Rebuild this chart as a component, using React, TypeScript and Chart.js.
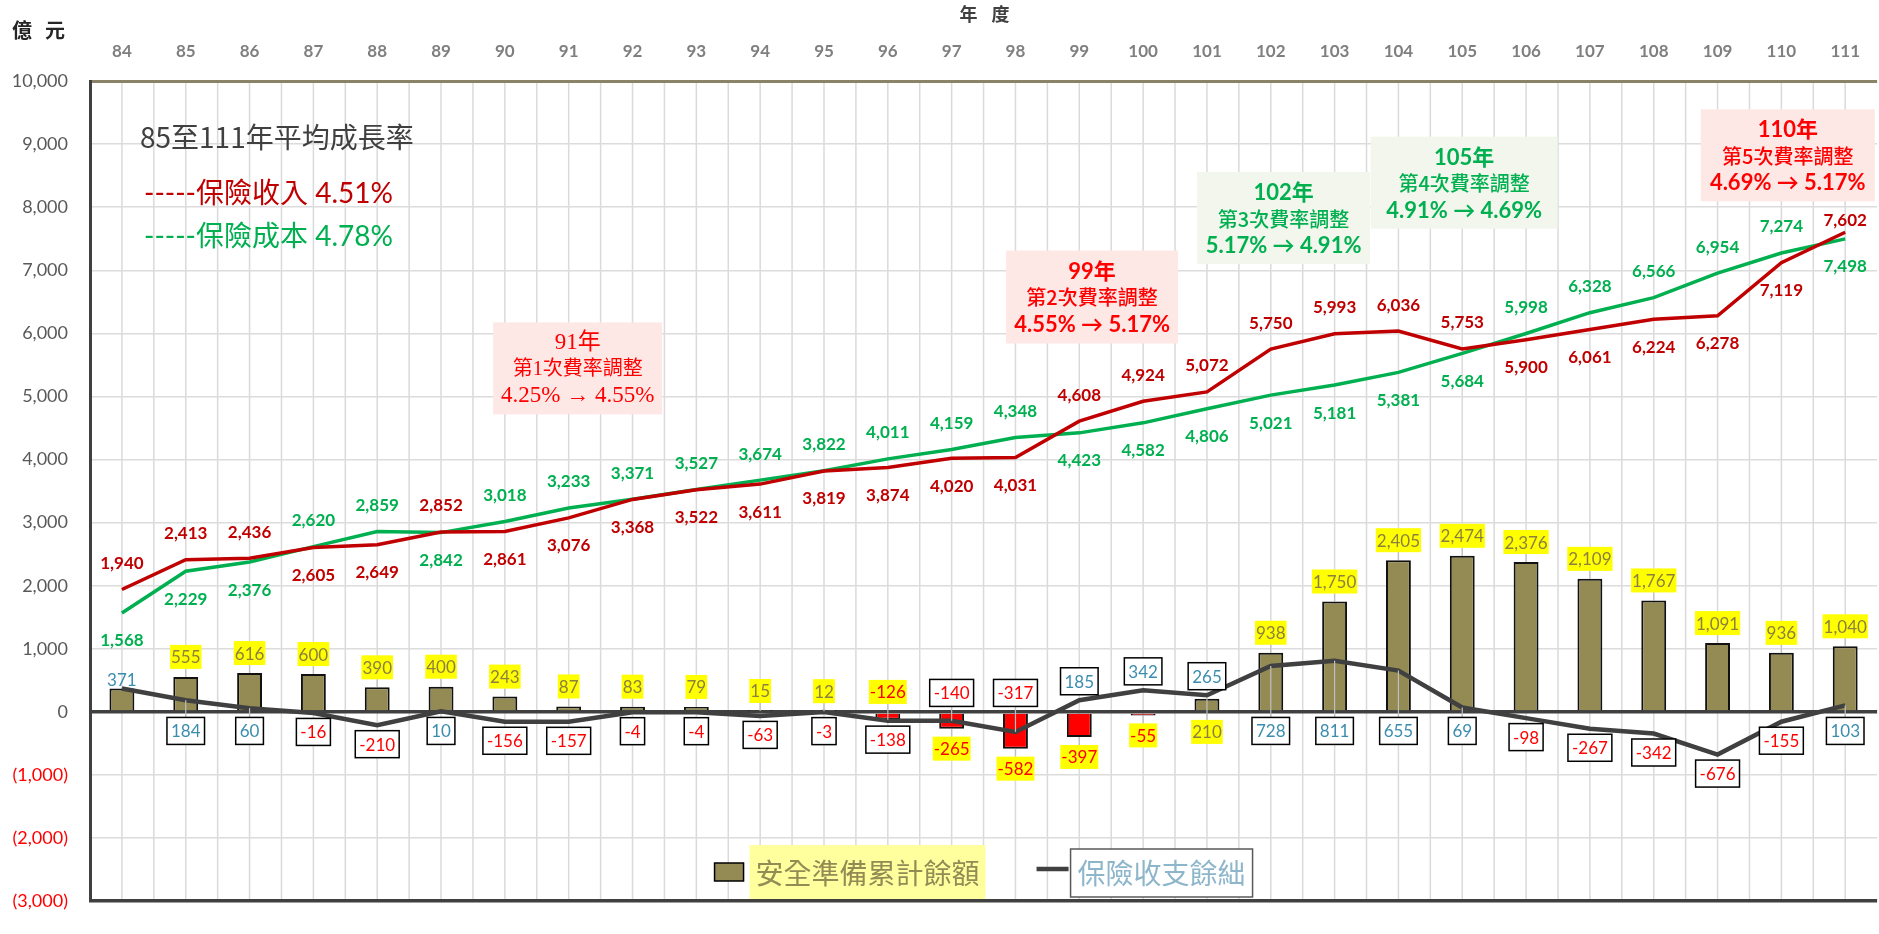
import React, { useEffect, useRef } from 'react';
import { Chart, registerables } from 'chart.js';

Chart.register(...registerables);

const years = ['84', '85', '86', '87', '88', '89', '90', '91', '92', '93', '94', '95', '96', '97', '98', '99', '100', '101', '102', '103', '104', '105', '106', '107', '108', '109', '110', '111'];
const income = [1940, 2413, 2436, 2605, 2649, 2852, 2861, 3076, 3368, 3522, 3611, 3819, 3874, 4020, 4031, 4608, 4924, 5072, 5750, 5993, 6036, 5753, 5900, 6061, 6224, 6278, 7119, 7602];
const cost = [1568, 2229, 2376, 2620, 2859, 2842, 3018, 3233, 3371, 3527, 3674, 3822, 4011, 4159, 4348, 4423, 4582, 4806, 5021, 5181, 5381, 5684, 5998, 6328, 6566, 6954, 7274, 7498];
const reserve = [371, 555, 616, 600, 390, 400, 243, 87, 83, 79, 15, 12, -126, -265, -582, -397, -55, 210, 938, 1750, 2405, 2474, 2376, 2109, 1767, 1091, 936, 1040];
const balance = [371, 184, 60, -16, -210, 10, -156, -157, -4, -4, -63, -3, -138, -140, -317, 185, 342, 265, 728, 811, 655, 69, -98, -267, -342, -676, -155, 103];

// label placement: a = above, A = close above, b = below, n = none
const incomePos = 'aaabbabbbbbbbbbaaaaaaabbbbbA';
const costPos = 'bbbaabaaaaaaaaabbbbbbbaaaaab';
const balancePos = 'abbbbbbbbbbbbaaaaabbbbbbbbbb';
const reservePos = 'naaaaaaaaaaaabbbbbaaaaaaaaaa';

const notes = [
  { idx: 7.14, val: 5445, w: 169, h: 92, bg: '#FDE8E6', color: '#FF0000', bold: false, serif: true, lines: ['91年', '第1次費率調整', '4.25% → 4.55%'] },
  { idx: 15.2, val: 6576, w: 172, h: 93, bg: '#FDE8E6', color: '#FF0000', bold: true, serif: false, lines: ['99年', '第2次費率調整', '4.55% → 5.17%'] },
  { idx: 18.2, val: 7830, w: 173, h: 92, bg: '#F2F6EC', color: '#00B050', bold: true, serif: false, lines: ['102年', '第3次費率調整', '5.17% → 4.91%'] },
  { idx: 21.03, val: 8389, w: 187, h: 92, bg: '#F2F6EC', color: '#00B050', bold: true, serif: false, lines: ['105年', '第4次費率調整', '4.91% → 4.69%'] },
  { idx: 26.1, val: 8822, w: 174, h: 92, bg: '#FDE8E6', color: '#FF0000', bold: true, serif: false, lines: ['110年', '第5次費率調整', '4.69% → 5.17%'] },
];

const SANS = 'Lato, "Noto Sans CJK TC", sans-serif';
const CJK = '"Noto Sans CJK TC", Lato, sans-serif';
const SERIF = '"Liberation Serif", "Noto Sans CJK TC", serif';

const fmt = (v: number) => v.toLocaleString('en-US');

function boxLabel(ctx: CanvasRenderingContext2D, text: string, cx: number, cy: number, o: any) {
  ctx.font = o.font;
  const tw = ctx.measureText(text).width;
  const w = tw + o.padX * 2;
  const h = o.h;
  if (o.bg) {
    ctx.fillStyle = o.bg;
    ctx.fillRect(cx - w / 2, cy - h / 2, w, h);
  }
  if (o.border) {
    ctx.strokeStyle = o.border;
    ctx.lineWidth = 1.5;
    ctx.strokeRect(cx - w / 2, cy - h / 2, w, h);
  }
  ctx.fillStyle = o.color;
  ctx.textAlign = 'center';
  ctx.textBaseline = 'middle';
  ctx.fillText(text, cx, cy + 1);
}

function leader(ctx: CanvasRenderingContext2D, x: number, py: number, cy: number, h: number) {
  const edge = py < cy ? cy - h / 2 : cy + h / 2;
  if (Math.abs(edge - py) > 7) {
    ctx.strokeStyle = '#BFBFBF';
    ctx.lineWidth = 1.2;
    ctx.beginPath();
    ctx.moveTo(x, py);
    ctx.lineTo(x, edge);
    ctx.stroke();
  }
}

const overlay = {
  id: 'overlay',
  beforeDraw(chart: any) {
    const { ctx, chartArea: a, scales } = chart;
    const x = scales.x;
    const step = x.getPixelForValue(1) - x.getPixelForValue(0);
    ctx.save();
    ctx.strokeStyle = '#DADADA';
    ctx.lineWidth = 1.5;
    for (let i = 0; i < years.length; i++) {
      const c = x.getPixelForValue(i);
      for (const px of [c - step / 2, c]) {
        ctx.beginPath();
        ctx.moveTo(px, a.top);
        ctx.lineTo(px, a.bottom);
        ctx.stroke();
      }
    }
    ctx.restore();
  },
  afterDatasetsDraw(chart: any) {
    const { ctx, chartArea: a, scales } = chart;
    const x = scales.x;
    const y = scales.y;
    const zero = y.getPixelForValue(0);
    ctx.save();

    // income / cost labels
    const lineLabels = (vals: number[], pos: string, color: string) => {
      vals.forEach((v, i) => {
        const px = x.getPixelForValue(i);
        const py = y.getPixelForValue(v);
        const p = pos[i];
        const cy = p === 'a' ? py - 27 : p === 'A' ? py - 13 : py + 27;
        boxLabel(ctx, fmt(v), px, cy, { font: `bold 17px ${SANS}`, color, padX: 0, h: 20 });
      });
    };
    lineLabels(income, incomePos, '#C00000');
    lineLabels(cost, costPos, '#00B050');

    // reserve (bar) labels
    reserve.forEach((v, i) => {
      if (reservePos[i] === 'n') return;
      const px = x.getPixelForValue(i);
      const py = y.getPixelForValue(v);
      const cy = reservePos[i] === 'a' ? Math.min(py, zero) - 20 : Math.max(py, zero) + 20;
      leader(ctx, px, py, cy, 24);
      boxLabel(ctx, fmt(v), px, cy, { font: `17px ${SANS}`, color: v < 0 ? '#FF0000' : '#8C8040', bg: '#FFFF00', padX: 1, h: 24 });
    });

    // balance labels
    balance.forEach((v, i) => {
      const px = x.getPixelForValue(i);
      const py = y.getPixelForValue(v);
      const boxed = i > 0;
      const off = boxed ? 19 : 9;
      const cy = balancePos[i] === 'a' ? Math.min(py, zero) - off : Math.max(py, zero) + off;
      if (boxed) leader(ctx, px, py, cy, 27);
      boxLabel(ctx, fmt(v), px, cy, {
        font: `17px ${SANS}`,
        color: v < 0 ? '#FF0000' : '#3A8DAE',
        bg: boxed ? '#FFFFFF' : null,
        border: boxed ? '#000000' : null,
        padX: 4,
        h: 27,
      });
    });

    // annotation boxes
    notes.forEach((n) => {
      const cx = x.getPixelForValue(n.idx);
      const cy = y.getPixelForValue(n.val);
      const left = cx - n.w / 2;
      const top = cy - n.h / 2;
      ctx.fillStyle = n.bg;
      ctx.fillRect(left, top, n.w, n.h);
      ctx.fillStyle = n.color;
      ctx.textAlign = 'center';
      ctx.textBaseline = 'middle';
      const fam = n.serif ? SERIF : SANS;
      const b = n.bold ? 'bold ' : '';
      ctx.font = `${b}${n.serif ? 23 : 22}px ${fam}`;
      ctx.fillText(n.lines[0], cx, top + 21);
      ctx.font = `${n.bold ? '500 ' : ''}20px ${n.serif ? SERIF : CJK}`;
      ctx.fillText(n.lines[1], cx, top + 47);
      ctx.font = `${b}${n.serif ? 23 : 22}px ${fam}`;
      ctx.fillText(n.lines[2], cx, top + 74);
    });

    // growth-rate text
    ctx.textAlign = 'left';
    ctx.textBaseline = 'middle';
    ctx.font = `28px ${CJK}`;
    ctx.fillStyle = '#404040';
    ctx.fillText('85至111年平均成長率', a.left + 50, a.top + 56);
    ctx.font = `28px ${SANS}`;
    ctx.fillStyle = '#C00000';
    ctx.fillText('-----保險收入 4.51%', a.left + 54, a.top + 113);
    ctx.fillStyle = '#00B050';
    ctx.fillText('-----保險成本 4.78%', a.left + 54, a.top + 156);

    // legend
    const lc = (a.left + a.right) / 2;
    const ly = 872;
    ctx.fillStyle = '#948A54';
    ctx.fillRect(lc - 269, ly - 9, 29, 18);
    ctx.strokeStyle = '#000000';
    ctx.lineWidth = 1.5;
    ctx.strokeRect(lc - 269, ly - 9, 29, 18);
    ctx.font = `28px ${CJK}`;
    const t1 = '安全準備累計餘額';
    const w1 = ctx.measureText(t1).width;
    ctx.fillStyle = '#FFFF9E';
    ctx.fillRect(lc - 234, ly - 27, w1 + 12, 54);
    ctx.fillStyle = '#948A54';
    ctx.fillText(t1, lc - 228, ly + 1);
    ctx.strokeStyle = '#404040';
    ctx.lineWidth = 4.5;
    ctx.beginPath();
    ctx.moveTo(lc + 53, ly - 3);
    ctx.lineTo(lc + 85, ly - 3);
    ctx.stroke();
    const t2 = '保險收支餘絀';
    const w2 = ctx.measureText(t2).width;
    ctx.fillStyle = '#FFFFFF';
    ctx.fillRect(lc + 87, ly - 23, w2 + 14, 48);
    ctx.strokeStyle = '#595959';
    ctx.lineWidth = 1.5;
    ctx.strokeRect(lc + 87, ly - 23, w2 + 14, 48);
    ctx.fillStyle = '#8DB6CB';
    ctx.fillText(t2, lc + 94, ly + 1);

    // axis captions
    ctx.fillStyle = '#262626';
    ctx.font = `bold 20px ${CJK}`;
    ctx.textAlign = 'center';
    ctx.fillText('億', 22, 30);
    ctx.fillText('元', 55, 30);
    ctx.fillStyle = '#404040';
    ctx.font = `bold 18px ${CJK}`;
    ctx.fillText('年', lc - 15, 14);
    ctx.fillText('度', lc + 17, 14);

    ctx.restore();
  },
};

export default function App() {
  const ref = useRef<HTMLCanvasElement>(null);
  useEffect(() => {
    if (!ref.current) return;
    Chart.defaults.font.family = SANS;
    const chart = new Chart(ref.current, {
      type: 'bar',
      data: {
        labels: years,
        datasets: [
          {
            type: 'line',
            label: '保險收入',
            data: income,
            borderColor: '#C00000',
            borderWidth: 3.5,
            pointRadius: 0,
            tension: 0,
            order: 1,
          } as any,
          {
            type: 'line',
            label: '保險成本',
            data: cost,
            borderColor: '#00B050',
            borderWidth: 3.5,
            pointRadius: 0,
            tension: 0,
            order: 2,
          },
          {
            type: 'line',
            label: '保險收支餘絀',
            data: balance,
            borderColor: '#404040',
            borderWidth: 4.5,
            pointRadius: 0,
            tension: 0,
            order: 3,
          },
          {
            type: 'bar',
            label: '安全準備累計餘額',
            data: reserve,
            backgroundColor: reserve.map((v) => (v < 0 ? '#FF0000' : '#948A54')),
            borderColor: '#111111',
            borderWidth: 2,
            barPercentage: 0.39,
            categoryPercentage: 1,
            order: 4,
          },
        ],
      },
      options: {
        animation: false,
        responsive: false,
        maintainAspectRatio: false,
        layout: { padding: { top: 0, left: 0, right: 0, bottom: 14 } },
        plugins: { legend: { display: false }, tooltip: { enabled: false } },
        scales: {
          x: {
            position: 'top',
            offset: true,
            grid: { display: false, drawTicks: false },
            border: { display: false },
            ticks: { color: '#7F7F7F', font: { size: 17, weight: 'bold' }, padding: 19, maxRotation: 0, autoSkip: false },
            afterFit: (s: any) => { s.height = 81; },
          },
          y: {
            min: -3000,
            max: 10000,
            ticks: {
              stepSize: 1000,
              padding: 22,
              font: { size: 18 },
              color: (c: any) => (c.tick.value < 0 ? '#FF0000' : '#595959'),
              callback: (v: any) => (v < 0 ? `(${fmt(Math.abs(v))})` : fmt(v)),
            },
            grid: {
              drawTicks: false,
              color: (c: any) => {
                const v = c.tick?.value;
                if (v === 0 || v === -3000) return '#404040';
                if (v === 10000) return '#8B8367';
                return '#DCDCDC';
              },
              lineWidth: (c: any) => {
                const v = c.tick?.value;
                if (v === 0 || v === -3000) return 3.5;
                if (v === 10000) return 3;
                return 1.5;
              },
            },
            border: { display: true, color: '#404040', width: 3 },
            afterFit: (s: any) => { s.width = 90; },
          },
        },
      },
      plugins: [overlay],
    });
    return () => chart.destroy();
  }, []);
  return (
    <div style={{ position: 'absolute', left: 0, top: 0, width: 1879, height: 934, background: '#fff' }}>
      <canvas ref={ref} width={1879} height={934} style={{ display: 'block' }} />
    </div>
  );
}
